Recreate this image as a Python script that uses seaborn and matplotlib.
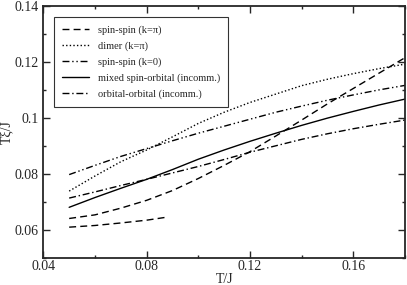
import matplotlib
matplotlib.use("Agg")
import matplotlib.pyplot as plt
import seaborn as sns
import pandas as pd
from matplotlib.ticker import MultipleLocator

# temperatures T/J
t_full = [0.05, 0.06, 0.07, 0.08, 0.09, 0.10, 0.11, 0.12, 0.13, 0.14, 0.15, 0.16, 0.17, 0.18]
t_short = [0.05, 0.06, 0.07, 0.08, 0.088]

# T*xi/J values
spin_pi = [0.0640, 0.0653, 0.0677, 0.0705, 0.0740, 0.0783, 0.0830, 0.0879, 0.0935,
           0.0992, 0.1050, 0.1105, 0.1160, 0.1215]
spin_pi_low = [0.0609, 0.0615, 0.0624, 0.0634, 0.0645]
dimer = [0.0738, 0.0792, 0.0843, 0.0885, 0.0932, 0.0980, 0.1020, 0.1055, 0.1085,
         0.1115, 0.1138, 0.1158, 0.1176, 0.1192]
spin_0 = [0.0797, 0.0830, 0.0862, 0.0890, 0.0918, 0.0945, 0.0970, 0.0995, 0.1020,
          0.1042, 0.1063, 0.1082, 0.1100, 0.1116]
mixed = [0.0680, 0.0715, 0.0748, 0.0780, 0.0815, 0.0852, 0.0885, 0.0916, 0.0945,
         0.0973, 0.0999, 0.1023, 0.1046, 0.1067]
orbital = [0.0713, 0.0735, 0.0758, 0.0780, 0.0803, 0.0826, 0.0851, 0.0877, 0.0900,
           0.0923, 0.0943, 0.0961, 0.0977, 0.0992]

series = [
    ("spin-spin (k=\u03c0)", t_full, spin_pi, (5, 3)),
    ("dimer (k=\u03c0)", t_full, dimer, (1, 1.6)),
    ("spin-spin (k=0)", t_full, spin_0, (5, 2, 1, 2, 1, 2)),
    ("mixed spin-orbital (incomm.)", t_full, mixed, ""),
    ("orbital-orbital (incomm.)", t_full, orbital, (5, 2, 1, 2)),
]

sns.set_style("ticks")
plt.rcParams['font.family'] = ['Liberation Serif', 'DejaVu Serif']

fig = plt.figure(figsize=(4.07, 2.85), dpi=100)
ax = fig.add_axes([0.1065, 0.096, 0.8885, 0.883])

for name, xs, ys, dash in series:
    df = pd.DataFrame({"T": xs, "xi": ys})
    sns.lineplot(data=df, x="T", y="xi", ax=ax, color="black", lw=1.0,
                 label=name, sort=True)
    line = ax.lines[-1]
    if dash:
        line.set_dashes(dash)

# second (low) branch of the k=pi spin-spin correlation
df_low = pd.DataFrame({"T": t_short, "xi": spin_pi_low})
sns.lineplot(data=df_low, x="T", y="xi", ax=ax, color="black", lw=1.0,
             label="_nolegend_")
ax.lines[-1].set_dashes((5, 3))

ax.set_xlim(0.04, 0.18)
ax.set_ylim(0.05, 0.14)
ax.xaxis.set_minor_locator(MultipleLocator(0.02))
ax.yaxis.set_minor_locator(MultipleLocator(0.01))
ax.set_xticks([0.04, 0.08, 0.12, 0.16])
ax.set_xticklabels(["0.04", "0.08", "0.12", "0.16"])
ax.set_yticks([0.06, 0.08, 0.10, 0.12, 0.14])
ax.set_yticklabels(["0.06", "0.08", "0.1", "0.12", "0.14"])
ax.tick_params(which="both", direction="in", top=True, right=True, labelsize=10, width=1.0)
ax.tick_params(which="major", length=5)
ax.tick_params(which="minor", length=2.5)
ax.tick_params(axis="x", pad=2)
for sp in ax.spines.values():
    sp.set_linewidth(1.3)

ax.set_xlabel("T/J", fontsize=10, labelpad=0)
ax.set_ylabel("T\u03be/J", fontsize=10, labelpad=1)

leg = ax.legend(loc="upper left", bbox_to_anchor=(0.029, 0.955), fontsize=7.5,
                frameon=True, fancybox=False, handlelength=2.6, labelspacing=0.62,
                borderpad=0.75, handletextpad=0.85, borderaxespad=0)
leg.get_frame().set_edgecolor("black")
leg.get_frame().set_linewidth(0.8)

fig.savefig("out.png", dpi=100)
